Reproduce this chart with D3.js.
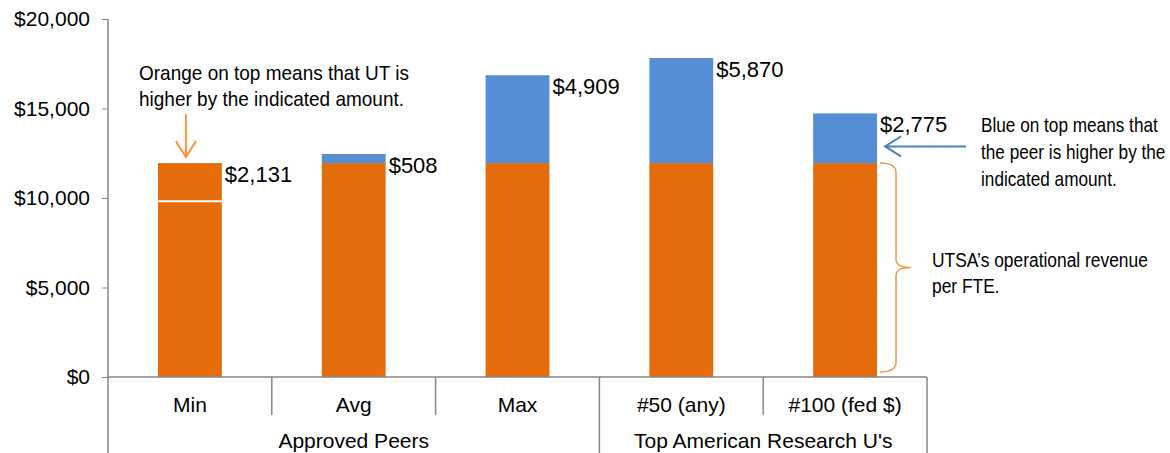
<!DOCTYPE html>
<html>
<head>
<meta charset="utf-8">
<script src="https://cdn.jsdelivr.net/npm/d3@7"></script>
<style>
body { margin: 0; background: #fff; }
text { font-family: "Liberation Sans", Arial, sans-serif; fill: #000; }
.note { font-size: 20px; }
</style>
</head>
<body>
<script>
// data
var categories = ["Min", "Avg", "Max", "#50 (any)", "#100 (fed $)"];
var groups = ["Approved Peers", "Approved Peers", "Approved Peers", "Top American Research U's", "Top American Research U's"];
var utsa = 11950;   // UTSA operational revenue per FTE
var peerValues = [9819, 12458, 16859, 17820, 14725];
var diffLabels = ["$2,131", "$508", "$4,909", "$5,870", "$2,775"];
var yTicks = [0, 5000, 10000, 15000, 20000];

var W = 1170, H = 453;
var margin = { top: 19, left: 108, right: 243, bottom: 76 };
var width = W - margin.left - margin.right,
    height = H - margin.top - margin.bottom;

var orange = "#e46c0a", blue = "#558ed5", lightOrange = "#f79646", arrowBlue = "#4f81bd";

var svg = d3.select("body").append("svg")
    .attr("width", W).attr("height", H);
var g = svg.append("g").attr("transform", "translate(" + margin.left + "," + margin.top + ")");

var x = d3.scaleBand().domain(categories).range([0, width]).paddingInner(0.61).paddingOuter(0.305);
var band = d3.scaleBand().domain(categories).range([0, width]);
var y = d3.scaleLinear().domain([0, 20000]).range([height, 0]);

// y axis
var yAxis = d3.axisLeft(y).tickValues(yTicks).tickSize(6).tickPadding(12)
    .tickFormat(function (d) { return "$" + d3.format(",")(d); });
var ya = g.append("g").call(yAxis);
ya.select(".domain").remove();
ya.selectAll("line").attr("stroke", "#868686");
ya.selectAll("text").style("font-size", "21px").attr("fill", "#000");
g.append("line").attr("x1", 0).attr("x2", 0).attr("y1", 0).attr("y2", H - margin.top)
    .attr("stroke", "#868686").attr("stroke-width", 1.5);

// bars
categories.forEach(function (c, i) {
    var p = peerValues[i];
    var bx = x(c), bw = x.bandwidth();
    var low = Math.min(p, utsa), high = Math.max(p, utsa);
    g.append("rect").attr("x", bx).attr("width", bw)
        .attr("y", y(low)).attr("height", y(0) - y(low)).attr("fill", orange);
    g.append("rect").attr("x", bx).attr("width", bw)
        .attr("y", y(high)).attr("height", y(low) - y(high))
        .attr("fill", p > utsa ? blue : orange);
    if (p < utsa) {
        g.append("line").attr("x1", bx).attr("x2", bx + bw)
            .attr("y1", y(p)).attr("y2", y(p)).attr("stroke", "#fff").attr("stroke-width", 2);
    }
    g.append("text").attr("x", bx + bw + 3).attr("y", y(high) + 19)
        .style("font-size", "22px").text(diffLabels[i]);
});

// category axis
g.append("line").attr("x1", 0).attr("x2", width).attr("y1", height).attr("y2", height)
    .attr("stroke", "#868686").attr("stroke-width", 1.5);
categories.forEach(function (c, i) {
    var bx = band(c) + band.bandwidth();
    var bottom = (i === categories.length - 1 || groups[i] !== groups[i + 1]) ? H - margin.top : height + 38;
    g.append("line").attr("x1", bx).attr("x2", bx).attr("y1", height).attr("y2", bottom)
        .attr("stroke", "#868686").attr("stroke-width", 1.5);
    g.append("text").attr("x", band(c) + band.bandwidth() / 2).attr("y", height + 35)
        .attr("text-anchor", "middle").style("font-size", "21px").text(c);
});
var groupNames = Array.from(new Set(groups));
groupNames.forEach(function (gn) {
    var idx = categories.filter(function (c, i) { return groups[i] === gn; });
    var x0 = band(idx[0]), x1 = band(idx[idx.length - 1]) + band.bandwidth();
    g.append("text").attr("x", (x0 + x1) / 2).attr("y", height + 71)
        .attr("text-anchor", "middle").style("font-size", "21px").text(gn);
});

// annotations: narrow text, squeezed horizontally
function note(x0, y0, lines, dy, sx) {
    var t = g.append("text").attr("class", "note")
        .attr("transform", "translate(" + x0 + "," + y0 + ") scale(" + sx + ",1)");
    lines.forEach(function (s, i) {
        t.append("tspan").attr("x", 0).attr("y", i * dy).text(s);
    });
}
note(31, 61, ["Orange on top means that UT is", "higher by the indicated amount."], 26, 0.95);

var ax = band("Min") + band.bandwidth() / 2 - 4;
var tipY = y(utsa) - 6;
g.append("line").attr("x1", ax).attr("x2", ax).attr("y1", tipY - 43).attr("y2", tipY)
    .attr("stroke", lightOrange).attr("stroke-width", 2);
g.append("path").attr("d", "M" + (ax - 10) + "," + (tipY - 16) + "L" + ax + "," + tipY + "L" + (ax + 10) + "," + (tipY - 16))
    .attr("fill", "none").attr("stroke", lightOrange).attr("stroke-width", 2);

var lastC = categories[categories.length - 1];
var barRight = x(lastC) + x.bandwidth();
var by = y(peerValues[4]) + 33;
g.append("line").attr("x1", barRight + 8).attr("x2", 858).attr("y1", by).attr("y2", by)
    .attr("stroke", arrowBlue).attr("stroke-width", 2);
g.append("path").attr("d", "M" + (barRight + 24) + "," + (by - 10) + "L" + (barRight + 8) + "," + by + "L" + (barRight + 24) + "," + (by + 10))
    .attr("fill", "none").attr("stroke", arrowBlue).attr("stroke-width", 2);

note(873, 113, ["Blue on top means that", "the peer is higher by the", "indicated amount."], 27, 0.86);

// brace for UTSA's value
var bx0 = barRight + 3, bv = bx0 + 16, bx1 = bx0 + 31,
    bTop = y(utsa), bBot = y(0) - 5, bMid = (bTop + bBot) / 2;
g.append("path")
    .attr("d", "M" + bx0 + "," + bTop + "Q" + bv + "," + bTop + " " + bv + "," + (bTop + 10) +
        "L" + bv + "," + (bMid - 8) + "Q" + bv + "," + bMid + " " + bx1 + "," + bMid +
        "Q" + bv + "," + bMid + " " + bv + "," + (bMid + 8) +
        "L" + bv + "," + (bBot - 10) + "Q" + bv + "," + bBot + " " + bx0 + "," + bBot)
    .attr("fill", "none").attr("stroke", lightOrange).attr("stroke-width", 1.5);

note(824, 248, ["UTSA\u2019s operational revenue", "per FTE."], 26, 0.87);
</script>
</body>
</html>
